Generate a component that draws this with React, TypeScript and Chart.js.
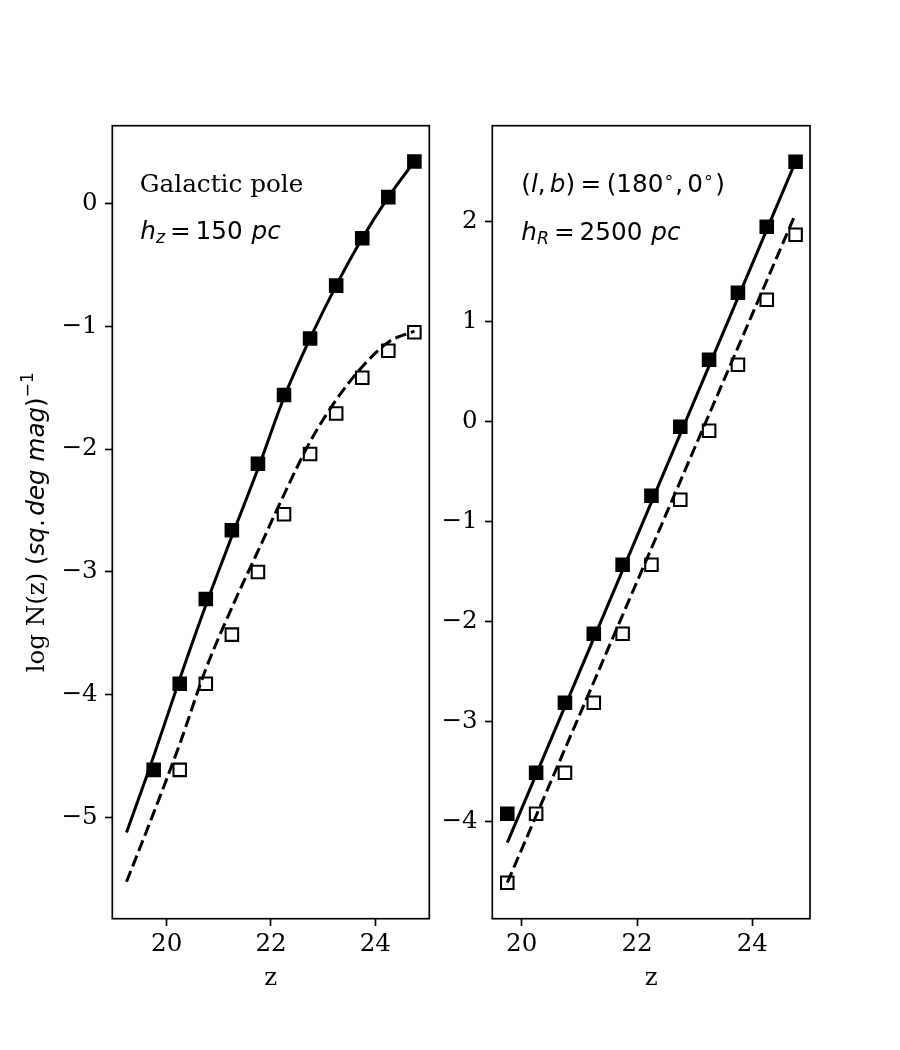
import React, { useEffect, useRef } from "react";
import { Chart, registerables } from "chart.js";

Chart.register(...registerables);

// Apparent magnitude bins (z band)
const magBins = [19.75, 20.25, 20.75, 21.25, 21.75, 22.25, 22.75, 23.25, 23.75, 24.25, 24.75];
const magBinsShifted = [20.25, 20.75, 21.25, 21.75, 22.25, 22.75, 23.25, 23.75, 24.25, 24.75];

// Galactic pole: log counts per sq. deg per mag
const poleCountsFilled = [-4.61, -3.91, -3.22, -2.66, -2.12, -1.56, -1.10, -0.67, -0.285, 0.05, 0.34];
const poleCountsOpen = [-4.61, -3.91, -3.51, -3.0, -2.53, -2.04, -1.71, -1.42, -1.2, -1.05];

// Galactic pole model curves
const poleModelMags = [19.23, 19.75, 20.25, 20.75, 21.25, 21.75, 22.25, 22.75, 23.25, 23.75, 24.25, 24.75];
const poleModelSolid = [-5.12, -4.5, -3.87, -3.27, -2.71, -2.16, -1.58, -1.1, -0.67, -0.285, 0.05, 0.34];
const poleModelDashed = [-5.52, -4.96, -4.4, -3.79, -3.29, -2.83, -2.37, -1.94, -1.6, -1.33, -1.13, -1.04];

// Anticentre field (l, b) = (180, 0)
const acCountsFilled = [-3.92, -3.51, -2.81, -2.12, -1.43, -0.74, -0.05, 0.62, 1.29, 1.95, 2.6];
const acCountsOpen = [-4.61, -3.92, -3.51, -2.81, -2.12, -1.43, -0.78, -0.09, 0.57, 1.22, 1.87];

// Anticentre model lines
const acModelMags = [19.75, 24.75];
const acModelSolid = [-4.21, 2.6];
const acModelDashed = [-4.61, 2.08];

// Axis ticks
const xTickValues = [20, 22, 24];
const xTickLabels = ["20", "22", "24"];
const poleYTickValues = [-5, -4, -3, -2, -1, 0];
const poleYTickLabels = ["\u22125", "\u22124", "\u22123", "\u22122", "\u22121", "0"];
const acYTickValues = [-4, -3, -2, -1, 0, 1, 2];
const acYTickLabels = ["\u22124", "\u22123", "\u22122", "\u22121", "0", "1", "2"];

const TICK_FONT = 24.5;
const ANN_FONT = 24.7;
const LABEL_FONT = 24.5;
const PT = 2.083;

const serif = (px: number) => `${px}px 'DejaVu Serif'`;
const sans = (px: number) => `${px}px 'DejaVu Sans'`;
const ital = (px: number) => `italic ${px}px 'DejaVu Sans'`;

type Run = { text: string; font: string; shift?: number; gap?: number };

function runsWidth(ctx: CanvasRenderingContext2D, runs: Run[]) {
  let w = 0;
  for (const r of runs) {
    ctx.font = r.font;
    w += (r.gap ?? 0) + ctx.measureText(r.text).width;
  }
  return w;
}

function drawRuns(ctx: CanvasRenderingContext2D, runs: Run[], x: number, y: number, rotate = 0) {
  ctx.save();
  ctx.translate(x, y);
  if (rotate) ctx.rotate(rotate);
  ctx.textBaseline = "alphabetic";
  ctx.textAlign = "left";
  ctx.fillStyle = "#000";
  let cx = 0;
  for (const r of runs) {
    cx += r.gap ?? 0;
    ctx.font = r.font;
    ctx.fillText(r.text, cx, r.shift ?? 0);
    cx += ctx.measureText(r.text).width;
  }
  ctx.restore();
}

const F = ANN_FONT;
const hzRuns: Run[] = [
  { text: "h", font: ital(F) },
  { text: "z", font: ital(0.7 * F), shift: 0.15 * F },
  { text: "=", font: sans(F), gap: 0.2 * F },
  { text: "150", font: sans(F), gap: 0.2 * F },
  { text: "pc", font: ital(F), gap: 0.36 * F },
];
const hrRuns: Run[] = [
  { text: "h", font: ital(F) },
  { text: "R", font: ital(0.7 * F), shift: 0.15 * F },
  { text: "=", font: sans(F), gap: 0.2 * F },
  { text: "2500", font: sans(F), gap: 0.2 * F },
  { text: "pc", font: ital(F), gap: 0.36 * F },
];
const lbRuns: Run[] = [
  { text: "(", font: sans(F) },
  { text: "l", font: ital(F) },
  { text: ",", font: sans(F) },
  { text: "b", font: ital(F), gap: 0.17 * F },
  { text: ")", font: sans(F) },
  { text: "=", font: sans(F), gap: 0.22 * F },
  { text: "(180", font: sans(F), gap: 0.22 * F },
  { text: "\u2218", font: sans(0.7 * F), shift: -0.36 * F },
  { text: ",", font: sans(F), gap: 0.04 * F },
  { text: "0", font: sans(F), gap: 0.17 * F },
  { text: "\u2218", font: sans(0.7 * F), shift: -0.36 * F },
  { text: ")", font: sans(F), gap: 0.06 * F },
];
const G = LABEL_FONT;
const yLabelRuns: Run[] = [
  { text: "log N(z) ", font: serif(G) },
  { text: "(", font: sans(G) },
  { text: "sq", font: ital(G) },
  { text: ".", font: sans(G) },
  { text: "deg", font: ital(G), gap: 0.15 * G },
  { text: "mag", font: ital(G), gap: 0.33 * G },
  { text: ")", font: sans(G) },
  { text: "\u22121", font: sans(0.7 * G), shift: -0.45 * G },
];

type PanelSpec = {
  width: number;
  yAxisWidth: number;
  padRight: number;
  xMin: number;
  xMax: number;
  yMin: number;
  yMax: number;
  yTickValues: number[];
  yTickLabels: string[];
  datasets: any[];
  decorate: (ctx: CanvasRenderingContext2D, area: any) => void;
};

const TOP = 125.7;
const X_AXIS_H = 131.3;

// Canvas placement: the two canvases overlap a little between the panels
const LEFT_CANVAS_W = 450;
const RIGHT_CANVAS_X = 430;
const RIGHT_CANVAS_W = 900 - RIGHT_CANVAS_X;

function pts(xs: number[], ys: number[]) {
  return xs.map((x, i) => ({ x, y: ys[i] }));
}

const lineStyle = (dashed: boolean, smooth: boolean) => ({
  showLine: true,
  borderColor: "#000",
  borderWidth: 1.45 * PT,
  borderDash: dashed ? [5.55 * PT, 2.4 * PT] : [],
  pointRadius: 0,
  cubicInterpolationMode: smooth ? "monotone" : "default",
  fill: false,
});

const markerStyle = (filled: boolean) => ({
  showLine: false,
  pointStyle: "rect",
  pointRadius: (6 * PT) / Math.SQRT2,
  pointBorderWidth: 1 * PT,
  pointBackgroundColor: filled ? "#000" : "rgba(0,0,0,0)",
  pointBorderColor: "#000",
  backgroundColor: filled ? "#000" : "rgba(0,0,0,0)",
  borderColor: "#000",
});

const polePanel: PanelSpec = {
  width: LEFT_CANVAS_W,
  yAxisWidth: 112.3,
  padRight: LEFT_CANVAS_W - 429.3,
  xMin: 18.957,
  xMax: 25.036,
  yMin: -5.821,
  yMax: 0.631,
  yTickValues: poleYTickValues,
  yTickLabels: poleYTickLabels,
  datasets: [
    { data: pts(poleModelMags, poleModelSolid), ...lineStyle(false, true) },
    { data: pts(poleModelMags, poleModelDashed), ...lineStyle(true, true) },
    { data: pts(magBins, poleCountsFilled), ...markerStyle(true) },
    { data: pts(magBinsShifted, poleCountsOpen), ...markerStyle(false) },
  ],
  decorate: (ctx, a) => {
    ctx.save();
    ctx.fillStyle = "#000";
    ctx.font = serif(F);
    ctx.textBaseline = "alphabetic";
    ctx.textAlign = "left";
    ctx.fillText("Galactic pole", a.left + 27.5, a.top + 66);
    ctx.restore();
    drawRuns(ctx, hzRuns, a.left + 28, a.top + 113.3);
    // vertical axis title, centred on the plot area
    const w = runsWidth(ctx, yLabelRuns);
    drawRuns(ctx, yLabelRuns, 44, (a.top + a.bottom) / 2 + w / 2, -Math.PI / 2);
  },
};

const acPanel: PanelSpec = {
  width: RIGHT_CANVAS_W,
  yAxisWidth: 492.3 - RIGHT_CANVAS_X,
  padRight: RIGHT_CANVAS_W - (810 - RIGHT_CANVAS_X),
  xMin: 19.49,
  xMax: 25.0,
  yMin: -4.97,
  yMax: 2.96,
  yTickValues: acYTickValues,
  yTickLabels: acYTickLabels,
  datasets: [
    { data: pts(acModelMags, acModelSolid), ...lineStyle(false, false) },
    { data: pts(acModelMags, acModelDashed), ...lineStyle(true, false) },
    { data: pts(magBins, acCountsFilled), ...markerStyle(true) },
    { data: pts(magBins, acCountsOpen), ...markerStyle(false) },
  ],
  decorate: (ctx, a) => {
    drawRuns(ctx, lbRuns, a.left + 29, a.top + 66);
    drawRuns(ctx, hrRuns, a.left + 29, a.top + 114.3);
  },
};

function Panel({ spec, left }: { spec: PanelSpec; left: number }) {
  const ref = useRef<HTMLCanvasElement | null>(null);

  useEffect(() => {
    if (!ref.current) return;
    const frame = {
      id: "frame",
      afterDraw(chart: any) {
        const { ctx, chartArea: a } = chart;
        ctx.save();
        ctx.strokeStyle = "#000";
        ctx.lineWidth = 0.8 * PT;
        ctx.strokeRect(a.left, a.top, a.right - a.left, a.bottom - a.top);
        ctx.restore();
        spec.decorate(ctx, a);
        ctx.save();
        ctx.fillStyle = "#000";
        ctx.font = serif(LABEL_FONT);
        ctx.textAlign = "center";
        ctx.textBaseline = "alphabetic";
        ctx.fillText("z", (a.left + a.right) / 2, 985);
        ctx.restore();
      },
    };

    const tickGrid = {
      drawOnChartArea: false,
      drawTicks: true,
      tickLength: 3.5 * PT,
      tickWidth: 0.8 * PT,
      tickColor: "#000",
    };

    const chart = new Chart(ref.current, {
      type: "scatter",
      data: { datasets: spec.datasets },
      plugins: [frame],
      options: {
        animation: false,
        responsive: false,
        events: [],
        layout: { padding: { top: TOP, right: spec.padRight, bottom: 0, left: 0 } },
        plugins: { legend: { display: false }, tooltip: { enabled: false } },
        scales: {
          x: {
            type: "linear",
            min: spec.xMin,
            max: spec.xMax,
            border: { display: false },
            grid: tickGrid,
            ticks: {
              color: "#000",
              font: { family: "'DejaVu Serif'", size: TICK_FONT },
              padding: 4,
              maxRotation: 0,
              autoSkip: false,
              callback: (v: any) => {
                const i = xTickValues.indexOf(Number(v));
                return i >= 0 ? xTickLabels[i] : "";
              },
            },
            afterBuildTicks: (scale: any) => {
              scale.ticks = xTickValues.map((value) => ({ value }));
            },
            afterFit: (scale: any) => {
              scale.height = X_AXIS_H;
            },
          },
          y: {
            type: "linear",
            min: spec.yMin,
            max: spec.yMax,
            border: { display: false },
            grid: tickGrid,
            ticks: {
              color: "#000",
              font: { family: "'DejaVu Serif'", size: TICK_FONT },
              padding: 7.5,
              autoSkip: false,
              callback: (v: any) => {
                const i = spec.yTickValues.indexOf(Number(v));
                return i >= 0 ? spec.yTickLabels[i] : "";
              },
            },
            afterBuildTicks: (scale: any) => {
              scale.ticks = spec.yTickValues.map((value) => ({ value }));
            },
            afterFit: (scale: any) => {
              scale.width = spec.yAxisWidth;
            },
          },
        },
      } as any,
    });
    return () => chart.destroy();
  }, [spec]);

  return (
    <canvas
      ref={ref}
      width={spec.width}
      height={1050}
      style={{ position: "absolute", left, top: 0, width: spec.width, height: 1050 }}
    />
  );
}

export default function App() {
  return (
    <div
      style={{
        position: "absolute",
        left: 0,
        top: 0,
        width: 900,
        height: 1050,
        background: "#fff",
        overflow: "hidden",
      }}
    >
      <Panel spec={polePanel} left={0} />
      <Panel spec={acPanel} left={RIGHT_CANVAS_X} />
    </div>
  );
}
